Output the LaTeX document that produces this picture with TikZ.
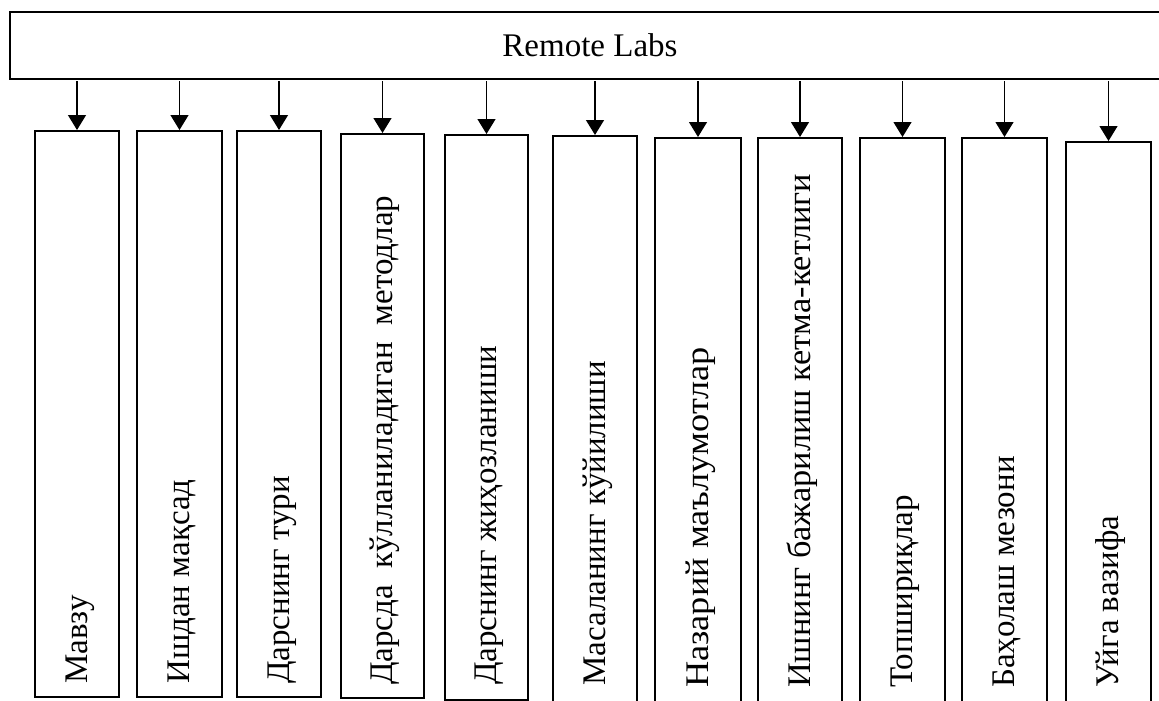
\documentclass[tikz,border=0pt]{standalone}
\usepackage{fontspec}
\setmainfont{Liberation Serif}
\usetikzlibrary{arrows.meta}
\tikzset{
  topbox/.style={draw, line width=2pt, inner sep=0pt, font=\fontsize{33}{40}\selectfont},
  colbox/.style={draw, line width=2pt, inner sep=0pt},
  collabel/.style={rotate=90, anchor=base west, inner sep=0pt, font=\fontsize{33}{40}\selectfont},
  arr/.style={line width=1.3pt, -{Triangle[width=18pt,length=15pt]}, shorten <=1pt}
}
\begin{document}
\begin{tikzpicture}[x=1pt,y=-1pt]
\clip (0,0) rectangle (1159,701);
\fill[white] (0,0) rectangle (1159,701);
\node[topbox, minimum width=1160pt, minimum height=67pt] (top) at (590,45.5) {Remote Labs};
% columns: left, right, top, bottom
\foreach \i/\l/\r/\t/\b in {1/35/119/131/697, 2/137/222/131/697, 3/237/321/131/697,
  4/341/424/134/698, 5/445/528/135/700, 6/553/637/136/706, 7/655/741/138/708,
  8/758/842/138/708, 9/860/945/138/708, 10/962/1047/138/708, 11/1066/1151/142/708}{
  \node[colbox, minimum width={(\r-\l)*1pt}, minimum height={(\b-\t)*1pt}] (c\i) at ({(\l+\r)/2},{(\t+\b)/2}) {};
  \draw[arr] (top.south -| c\i.north) -- (c\i.north);
}
\node[collabel] (l1) at ([xshift=10pt]c1.center |- 0,684) {Мавзу};
\node[collabel] (l2) at ([xshift=10pt]c2.center |- 0,684) {Ишдан мақсад};
\node[collabel] (l3) at ([xshift=10pt]c3.center |- 0,684) {Дарснинг тури};
\node[collabel] (l4) at ([xshift=10pt]c4.center |- 0,685) {Дарсда\ \ кўлланиладиган\ \ методлар};
\node[collabel] (l5) at ([xshift=10pt]c5.center |- 0,685) {Дарснинг жиҳозланиши};
\node[collabel] (l6) at ([xshift=10pt]c6.center |- 0,686) {Масаланинг кўйилиши};
\node[collabel] (l7) at ([xshift=10pt]c7.center |- 0,688) {\scalebox{1.1}[1]{Назарий маълумотлар}};
\node[collabel] (l8) at ([xshift=10pt]c8.center |- 0,688) {\scalebox{1.04}[1]{Ишнинг бажарилиш кетма-кетлиги}};
\node[collabel] (l9) at ([xshift=10pt]c9.center |- 0,688) {Топшириқлар};
\node[collabel] (l10) at ([xshift=10pt]c10.center |- 0,688) {Баҳолаш мезони};
\node[collabel] (l11) at ([xshift=10pt]c11.center |- 0,688) {Уйга вазифа};
\end{tikzpicture}
\end{document}
